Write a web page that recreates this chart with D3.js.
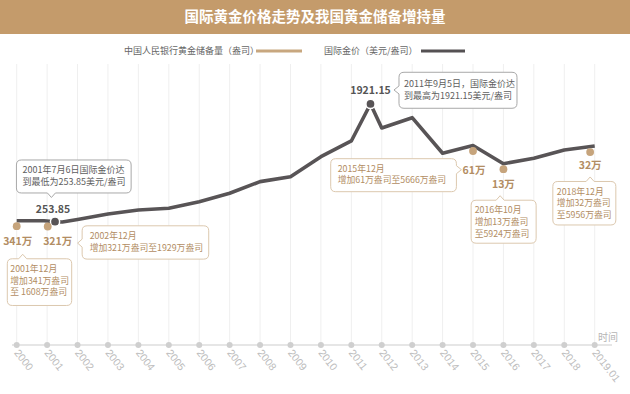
<!DOCTYPE html>
<html><head><meta charset="utf-8">
<script src="https://cdn.jsdelivr.net/npm/d3@7/dist/d3.min.js"></script>
<style>
html,body{margin:0;padding:0;background:#fff;}
svg{display:block;font-family:"Noto Sans CJK SC","Noto Sans",sans-serif;}
</style></head>
<body><svg id="c" width="630" height="394"></svg>
<script>
// ---------- data ----------
const title = "国际黄金价格走势及我国黄金储备增持量";
const legendGold = "中国人民银行黄金储备量（盎司）";
const legendPrice = "国际金价（美元/盎司）";
const axisTitle = "时间";
const tickYears = [2000,2001,2002,2003,2004,2005,2006,2007,2008,2009,2010,2011,2012,2013,2014,2015,2016,2017,2018,2019];
const tickLabels = ["2000","2001","2002","2003","2004","2005","2006","2007","2008","2009","2010","2011","2012","2013","2014","2015","2016","2017","2018","2019.01"];

// international gold price (USD/oz), x in fractional years as drawn
const priceDates  = [2000, 2000.9, 2001.26, 2001.5, 2002, 2003, 2004, 2005, 2006, 2007, 2008, 2009, 2010, 2011, 2011.63, 2012, 2013, 2014, 2015, 2016, 2017, 2018, 2019];
const priceValues = [268,  268,    253.85,  250,    285,  363,  420,  445,  537,  656,  821,  891,  1175, 1397, 1921.15, 1581, 1727, 1223, 1333, 1075, 1152, 1270, 1326];

// PBOC gold reserve additions (万盎司) and totals
const goldDates  = [2000.0, 2001.02, 2015.0, 2016.0, 2018.85];
const goldAdds   = [341, 321, 61, 13, 32];
const goldTotals = [1608, 1929, 5666, 5924, 5956];
const goldMonths = ["2001年12月", "2002年12月", "2015年12月", "2016年10月", "2018年12月"];

// price extremes annotated
const extremeDates  = [2001.26, 2011.63];
const extremeValues = [253.85, 1921.15];
const extremeNotes  = [["2001年7月6日国际金价达", "到最低为253.85美元/盎司"],
                       ["2011年9月5日，国际金价达", "到最高为1921.15美元/盎司"]];

// ---------- layout ----------
const W = 630, H = 394;
const GOLD = "#c6a47c", GOLDTXT = "#b28d63", GOLDBORDER = "#dcc8ae";
const DARK = "#585456";
const svg = d3.select("#c");

const x = d3.scaleLinear().domain([2000, 2019]).range([16.7, 594.7]);
const y = d3.scaleLinear().domain([0, 2000]).range([239.6, 98.4]);
const axisY = 345;

// header
svg.append("rect").attr("x",0).attr("y",0).attr("width",W).attr("height",34).attr("fill","#c49b6b");
svg.append("text").attr("x",W/2).attr("y",22).attr("text-anchor","middle")
  .attr("fill","#fff").attr("font-size",14.5).attr("font-weight","bold").text(title);

// legend
const lg = svg.append("g").attr("font-size",9).attr("fill","#666");
lg.append("text").attr("x",124).attr("y",54).text(legendGold);
lg.append("line").attr("x1",256).attr("x2",302).attr("y1",51).attr("y2",51).attr("stroke","#c8a77f").attr("stroke-width",3);
lg.append("text").attr("x",324).attr("y",54).text(legendPrice);
lg.append("line").attr("x1",421).attr("x2",465).attr("y1",51).attr("y2",51).attr("stroke","#555153").attr("stroke-width",3);

// grid
svg.append("g").selectAll("line").data(tickYears).join("line")
  .attr("x1",d=>x(d)).attr("x2",d=>x(d)).attr("y1",64).attr("y2",axisY)
  .attr("stroke","#efefef").attr("stroke-width",1);

// axis
svg.append("line").attr("x1",12).attr("x2",612).attr("y1",axisY).attr("y2",axisY)
  .attr("stroke","#e6e6e6").attr("stroke-width",2);
svg.append("g").selectAll("circle").data(tickYears).join("circle")
  .attr("cx",d=>x(d)).attr("cy",axisY).attr("r",3).attr("fill","#cfcfcf");
svg.append("g").selectAll("text").data(tickYears).join("text")
  .attr("transform",d=>`translate(${x(d)-3},${axisY+8}) rotate(52)`)
  .attr("font-size",10.5).attr("fill","#bdbdbd").attr("font-family","Liberation Sans, Arial, sans-serif")
  .text((d,i)=>tickLabels[i]);
svg.append("text").attr("x",598).attr("y",341).attr("font-size",10).attr("fill","#b5b5b5").text(axisTitle);

// price line
const pts = priceDates.map((d,i)=>[d, priceValues[i]]);
svg.append("path").datum(pts)
  .attr("d", d3.line().x(d=>x(d[0])).y(d=>y(d[1])).curve(d3.curveLinear))
  .attr("fill","none").attr("stroke",DARK).attr("stroke-width",3.6).attr("stroke-linejoin","round");

function priceAt(t){
  for(let i=0;i<priceDates.length-1;i++){
    if(t>=priceDates[i] && t<=priceDates[i+1]){
      const f=(t-priceDates[i])/(priceDates[i+1]-priceDates[i]);
      return priceValues[i]+f*(priceValues[i+1]-priceValues[i]);
    }
  }
  return priceValues[priceValues.length-1];
}

// callout path
function callout(bx,by,w,h,r,side,pos,tip){
  const hw=4;
  let p=`M${bx+r},${by}`;
  if(side==="top"){p+=`H${bx+pos-hw}L${bx+pos},${by-tip}L${bx+pos+hw},${by}`;}
  p+=`H${bx+w-r}Q${bx+w},${by} ${bx+w},${by+r}`;
  if(side==="right"){p+=`V${by+pos-hw}L${bx+w+tip},${by+pos}L${bx+w},${by+pos+hw}`;}
  p+=`V${by+h-r}Q${bx+w},${by+h} ${bx+w-r},${by+h}`;
  if(side==="bottom"){p+=`H${bx+pos+hw}L${bx+pos},${by+h+tip}L${bx+pos-hw},${by+h}`;}
  p+=`H${bx+r}Q${bx},${by+h} ${bx},${by+h-r}`;
  if(side==="left"){p+=`V${by+pos+hw}L${bx-tip},${by+pos}L${bx},${by+pos-hw}`;}
  p+=`V${by+r}Q${bx},${by} ${bx+r},${by}Z`;
  return p;
}
function box(ax,ay,L,lines,stroke,fill,fs){
  const bx=ax+L.dx, by=ay+L.dy;
  svg.append("path").attr("d",callout(bx,by,L.w,L.h,5,L.side,L.pos,L.tip))
    .attr("fill","#fff").attr("stroke",stroke).attr("stroke-width",1);
  const t=svg.append("text").attr("font-size",fs||8.8).attr("fill",fill);
  lines.forEach((s,i)=>t.append("tspan").attr("x",bx+L.px).attr("y",by+L.py+i*L.lh).text(s));
}

// gold reserve annotations layout (offsets from each gold dot)
const goldBoxLayout = [
  {dx:-9.4, dy:32.6, w:64.4, h:46.7, side:"top", pos:15.4, tip:4.5, px:3, py:13, lh:11.8, lines:3, ldx:1, ldy:18.5},
  {dx:34.4, dy:-0.7, w:126.6,h:33.3, side:"left",pos:17.3, tip:4.5, px:7.5, py:13.6, lh:11.8, lines:2, ldx:10, ldy:18.5},
  {dx:-142.3,dy:7.7, w:125.7,h:33,  side:"right",pos:11, tip:5, px:7, py:13, lh:11.8, lines:2, ldx:1, ldy:23},
  {dx:-32.3,dy:31,  w:65,   h:43, side:"top", pos:29, tip:4.5, px:3.5, py:13, lh:11.8, lines:3, ldx:0, ldy:18.5},
  {dx:-37.3,dy:29.4, w:63,  h:43.5, side:"top", pos:37.3, tip:4.5, px:4, py:13.2, lh:11.8, lines:3, ldx:0, ldy:16.5}
];
const extremeLayout = [
  {dx:-38.6, dy:-61.7, w:114.7, h:33, side:"bottom", pos:35, tip:4.5, px:6, py:13.3, lh:11.8, ldx:-2, ldy:-9},
  {dx:28.5, dy:-31.7, w:118, h:36, side:"left", pos:17.7, tip:5, px:5, py:14.3, lh:12.5, ldx:0, ldy:-10}
];

// extremes
extremeDates.forEach((d,i)=>{
  const cx=x(d), cy=y(extremeValues[i]), L=extremeLayout[i];
  box(cx,cy,L,extremeNotes[i],"#a8a8a8","#5e5e5e",9);
  svg.append("text").attr("x",cx+L.ldx).attr("y",cy+L.ldy).attr("text-anchor","middle")
    .attr("font-size",10.5).attr("font-weight","bold").attr("fill","#555").text(extremeValues[i].toFixed(2));
});
svg.append("g").selectAll("circle").data(extremeDates).join("circle")
  .attr("cx",d=>x(d)).attr("cy",(d,i)=>y(extremeValues[i])).attr("r",4.6)
  .attr("fill",DARK).attr("stroke","#fff").attr("stroke-width",1.5);

// gold dots, labels and boxes
goldDates.forEach((d,i)=>{
  const cx=x(d), cy=y(priceAt(d))+5.5, L=goldBoxLayout[i];
  const l2=`增加${goldAdds[i]}万盎司`, l3=(i===0?"至 ":"至")+`${goldTotals[i]}万盎司`;
  const lines = L.lines===3 ? [goldMonths[i], l2, l3] : [goldMonths[i], l2+l3];
  box(cx,cy,L,lines,GOLDBORDER,GOLDTXT,8.8);
  svg.append("circle").attr("cx",cx).attr("cy",cy).attr("r",3.9).attr("fill",GOLD);
  svg.append("text").attr("x",cx+L.ldx).attr("y",cy+L.ldy).attr("text-anchor","middle")
    .attr("font-size",10.5).attr("font-weight","bold").attr("fill",GOLDTXT).text(goldAdds[i]+"万");
});
</script></body></html>
